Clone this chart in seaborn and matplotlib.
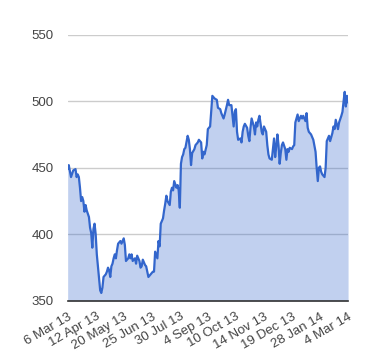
import matplotlib
matplotlib.use("Agg")
import matplotlib.pyplot as plt
import seaborn as sns
import pandas as pd

# trading-session index (0 = 6 Mar 13) and closing value
session = [0, 1, 3, 5, 7, 8, 9, 10, 11, 12, 13, 14, 15, 16, 17, 19, 20, 21, 22, 23,
           24, 25, 26, 28, 29, 30, 31, 32, 34, 35, 36, 37, 38, 39, 40, 41, 42, 43, 44, 45,
           47, 48, 50, 51, 52, 54, 55, 56, 57, 58, 60, 61, 62, 64, 65, 66, 67, 69, 70, 71,
           72, 74, 76, 77, 78, 80, 81, 82, 83, 85, 86, 87, 88, 89, 91, 92, 93, 94, 95, 97,
           98, 99, 100, 101, 102, 103, 104, 105, 107, 108, 109, 110, 111, 113, 114, 116, 117, 119, 120, 121,
           122, 124, 125, 127, 128, 129, 131, 133, 134, 136, 137, 139, 140, 142, 143, 144, 146, 147, 148, 149,
           150, 151, 152, 154, 155, 156, 157, 158, 160, 161, 162, 163, 164, 166, 167, 168, 169, 170, 171, 173,
           174, 175, 177, 178, 179, 180, 182, 183, 184, 185, 186, 187, 188, 189, 190, 191, 192, 194, 195, 196,
           197, 198, 200, 201, 202, 203, 205, 206, 208, 209, 210, 212, 213, 214, 215, 217, 219, 221, 222, 223,
           224, 225, 226, 227, 229, 230, 231, 232, 233, 234, 236, 237, 238, 239, 241, 242, 244, 245, 246, 247,
           248, 249, 250]
value = [449, 452, 443, 448, 449, 443, 445, 443, 435, 425, 428, 425, 417, 422, 418, 413, 405, 401, 390, 404,
         408, 400, 385, 367, 358, 356, 360, 368, 370, 372, 375, 373, 368, 376, 378, 382, 385, 382, 388, 393,
         395, 393, 397, 392, 380, 382, 385, 382, 385, 380, 382, 378, 384, 380, 375, 376, 381, 377, 376, 372,
         368, 370, 372, 372, 387, 382, 395, 391, 408, 412, 418, 423, 429, 425, 422, 432, 435, 433, 440, 435,
         437, 433, 420, 453, 458, 460, 464, 465, 474, 471, 464, 452, 461, 464, 467, 469, 471, 469, 457, 462,
         460, 467, 479, 481, 492, 504, 502, 501, 495, 494, 491, 487, 490, 497, 501, 497, 497, 489, 481, 492,
         494, 477, 471, 472, 469, 477, 481, 483, 480, 474, 470, 480, 487, 481, 475, 484, 481, 486, 489, 477,
         475, 481, 477, 467, 460, 457, 456, 464, 472, 458, 466, 475, 467, 453, 461, 467, 469, 464, 456, 464,
         462, 465, 464, 466, 467, 484, 490, 485, 489, 487, 489, 485, 491, 480, 477, 475, 471, 462, 450, 440,
         450, 451, 447, 445, 443, 450, 470, 472, 474, 470, 476, 481, 479, 486, 479, 484, 489, 492, 500, 507,
         496, 504, 499]

tick_sessions = [0, 25, 50, 75, 100, 125, 150, 175, 200, 225, 250]
tick_labels = ["6 Mar 13", "12 Apr 13", "20 May 13", "25 Jun 13", "30 Jul 13", "4 Sep 13",
               "10 Oct 13", "14 Nov 13", "19 Dec 13", "28 Jan 14", "4 Mar 14"]
y_ticks = [350, 400, 450, 500, 550]

df = pd.DataFrame({"session": session, "value": value})

sns.set_theme(style="white")
plt.rcParams["font.family"] = ["Liberation Sans", "DejaVu Sans"]

fig = plt.figure(figsize=(3.8, 3.6), dpi=100)
ax = fig.add_axes([0.178, 0.164, 0.738, 0.740])

line_color = "#3366cc"
ax.fill_between(df["session"], df["value"], y_ticks[0], color=line_color, alpha=0.3,
                linewidth=0, zorder=2)
sns.lineplot(data=df, x="session", y="value", ax=ax, color=line_color, linewidth=1.6,
             zorder=3)

ax.set_xlim(tick_sessions[0], tick_sessions[-1])
ax.set_ylim(y_ticks[0], y_ticks[-1])
ax.set_yticks(y_ticks)
ax.set_yticklabels([str(v) for v in y_ticks])
ax.set_xticks(tick_sessions)
ax.set_xticklabels(tick_labels, rotation=30, ha="right", rotation_mode="anchor")

ax.set_axisbelow(True)
ax.yaxis.grid(True, color="#cccccc", linewidth=1, zorder=0)
ax.xaxis.grid(False)
for side in ["top", "right", "left"]:
    ax.spines[side].set_visible(False)
ax.spines["bottom"].set_color("#333333")
ax.spines["bottom"].set_linewidth(1.2)
ax.spines["bottom"].set_zorder(4)

ax.tick_params(axis="y", length=0, pad=10, labelsize=9.5, labelcolor="#444444")
ax.tick_params(axis="x", length=0, pad=7, labelsize=9.5, labelcolor="#444444")
ax.set_xlabel("")
ax.set_ylabel("")

fig.savefig("out.png", dpi=100)
